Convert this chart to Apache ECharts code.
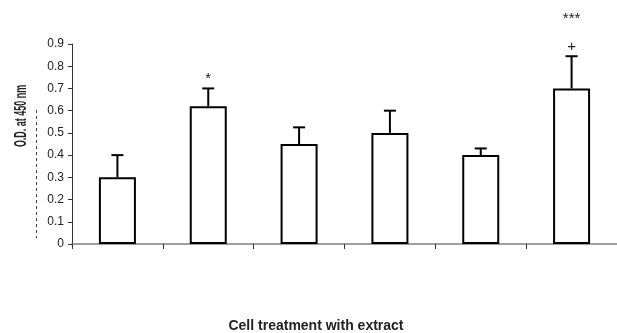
<!DOCTYPE html>
<html>
<head>
<meta charset="utf-8">
<script src="https://cdn.jsdelivr.net/npm/echarts@6/dist/echarts.min.js"></script>
<style>
  html, body { margin: 0; padding: 0; background: #fff; }
  #chart { width: 617px; height: 333px; }
</style>
</head>
<body>
<div id="chart"></div>
<script>
var categories = ['1', '2', '3', '4', '5', '6'];
var means = [0.30, 0.62, 0.45, 0.50, 0.40, 0.70];
var errTops = [0.40, 0.70, 0.525, 0.60, 0.43, 0.845];
var marksNear = ['', '*', '', '', '', '+'];
var marksFar = ['', '', '', '', '', '***'];
var yTicks = [0, 0.1, 0.2, 0.3, 0.4, 0.5, 0.6, 0.7, 0.8, 0.9];

var myChart = echarts.init(document.getElementById('chart'));

var errData = categories.map(function (c, i) {
  return [i, means[i], errTops[i]];
});

var option = {
  backgroundColor: '#fff',
  animation: false,
  grid: { left: 72, right: 0, top: 44, bottom: 89 },
  xAxis: {
    type: 'category',
    data: categories,
    axisLine: { lineStyle: { color: '#808080', width: 1.5 } },
    axisTick: { show: true, length: 5, lineStyle: { color: '#333' } },
    axisLabel: { show: false }
  },
  yAxis: {
    type: 'value',
    min: yTicks[0],
    max: yTicks[yTicks.length - 1],
    interval: 0.1,
    splitLine: { show: false },
    axisLine: { show: true, lineStyle: { color: '#333', width: 1 } },
    axisTick: { show: true, length: 4, lineStyle: { color: '#333' } },
    axisLabel: {
      margin: 8,
      color: '#222',
      fontFamily: 'Liberation Sans',
      fontSize: 12,
      formatter: function (v) { return v === 0 ? '0' : v.toFixed(1); }
    }
  },
  graphic: [
    {
      type: 'text',
      x: 21,
      y: 116,
      rotation: Math.PI / 2,
      scaleX: 0.64,
      scaleY: 1.2,
      style: {
        text: 'O.D. at 450 nm',
        font: 'bold 14px "Liberation Sans"',
        fill: '#222',
        align: 'center',
        verticalAlign: 'middle'
      }
    },
    {
      type: 'line',
      shape: { x1: 36.5, y1: 110, x2: 36.5, y2: 238 },
      style: { stroke: '#444', lineWidth: 1, lineDash: [3, 3] }
    },
    {
      type: 'text',
      x: 316,
      y: 326,
      style: {
        text: 'Cell treatment with extract',
        font: 'bold 14px "Liberation Sans"',
        fill: '#222',
        align: 'center',
        verticalAlign: 'middle'
      }
    }
  ],
  series: [
    {
      type: 'bar',
      data: means,
      barWidth: 37,
      itemStyle: { color: '#fff', borderColor: '#000', borderWidth: 2 }
    },
    {
      type: 'custom',
      data: errData,
      z: 5,
      renderItem: function (params, api) {
        var i = api.value(0);
        var base = api.coord([i, api.value(1)]);
        var top = api.coord([i, api.value(2)]);
        var children = [
          { type: 'line', shape: { x1: base[0], y1: base[1], x2: top[0], y2: top[1] },
            style: { stroke: '#000', lineWidth: 2 } },
          { type: 'line', shape: { x1: top[0] - 6, y1: top[1], x2: top[0] + 6, y2: top[1] },
            style: { stroke: '#000', lineWidth: 2 } }
        ];
        if (marksNear[i]) {
          children.push({ type: 'text', x: top[0], y: top[1] - 2,
            style: { text: marksNear[i], font: '15px "Liberation Sans"', fill: '#222',
              align: 'center', verticalAlign: 'bottom' } });
        }
        if (marksFar[i]) {
          children.push({ type: 'text', x: top[0], y: top[1] - 30,
            style: { text: marksFar[i], font: '15px "Liberation Sans"', fill: '#222',
              align: 'center', verticalAlign: 'bottom' } });
        }
        return { type: 'group', children: children };
      }
    }
  ]
};
myChart.setOption(option);
</script>
</body>
</html>
